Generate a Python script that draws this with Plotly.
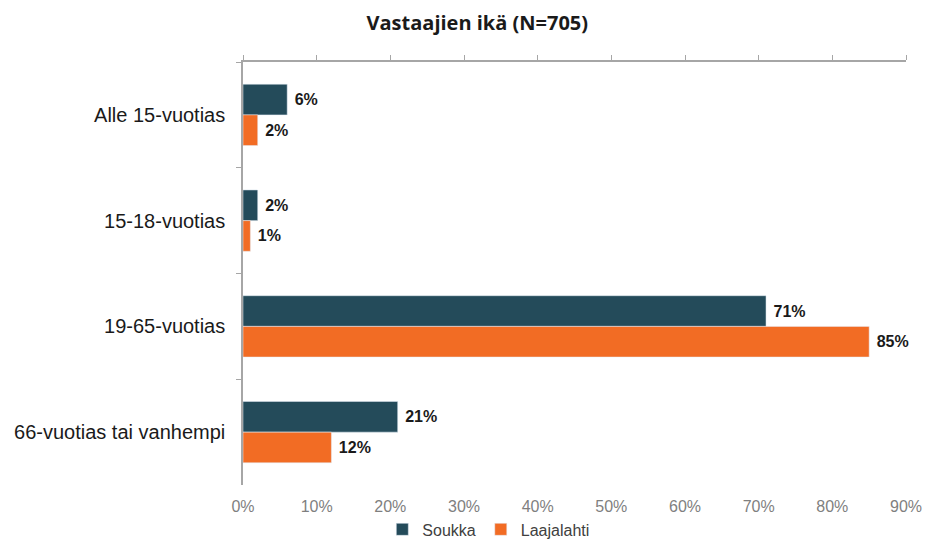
import plotly.graph_objects as go

categories = ['Alle 15-vuotias', '15-18-vuotias', '19-65-vuotias', '66-vuotias tai vanhempi']
soukka = [6, 2, 71, 21]
laajalahti = [2, 1, 85, 12]
x_ticks = [0, 10, 20, 30, 40, 50, 60, 70, 80, 90]

label_font = dict(family='Arial', size=16, color='#1a1a1a')

fig = go.Figure()
fig.add_trace(go.Bar(
    y=categories, x=soukka, orientation='h', name='Soukka',
    marker_color='#244B5A', text=[f'{v}%' for v in soukka],
    textposition='outside', cliponaxis=False, textfont=label_font,
))
fig.add_trace(go.Bar(
    y=categories, x=laajalahti, orientation='h', name='Laajalahti',
    marker_color='#F26C24', text=[f'{v}%' for v in laajalahti],
    textposition='outside', cliponaxis=False, textfont=label_font,
))
fig.update_traces(texttemplate='\u00a0<b>%{text}</b>', hoverinfo='x+y')

# invisible trace so the top axis gets drawn
fig.add_trace(go.Scatter(
    x=[0, 90], y=[categories[0], categories[0]], xaxis='x2', mode='markers',
    marker=dict(opacity=0), showlegend=False, hoverinfo='skip',
))

fig.update_layout(
    width=925, height=539,
    margin=dict(l=243, r=19, t=62, b=54, autoexpand=False),
    paper_bgcolor='white', plot_bgcolor='white',
    barmode='group', bargap=0.42, bargroupgap=0,
    title=dict(text='<b>Vastaajien ikä (N=705)</b>', x=0.516, xanchor='center',
               y=0.958, yanchor='middle',
               font=dict(family='Open Sans', size=20, color='#1a1a1a')),
    xaxis=dict(range=[0, 90], tickvals=x_ticks, ticktext=[f'{t}%' for t in x_ticks],
               showgrid=False, zeroline=False, showline=False, ticks='',
               ticklabelstandoff=10,
               tickfont=dict(family='Arial', size=16, color='#7f7f7f')),
    xaxis2=dict(range=[0, 90], tickvals=x_ticks, overlaying='x', side='top', anchor='y',
                showticklabels=False, showgrid=False, zeroline=False,
                showline=True, linecolor='#a6a6a6', linewidth=1.5,
                ticks='outside', ticklen=5, tickcolor='#a6a6a6'),
    yaxis=dict(autorange='reversed', showgrid=False, showline=True, linecolor='#a6a6a6',
               linewidth=1.5, ticks='outside', ticklen=5, tickcolor='#a6a6a6',
               tickson='boundaries', ticklabelstandoff=12,
               tickfont=dict(family='Arial', size=20, color='#1a1a1a')),
    legend=dict(orientation='h', x=0.37, xanchor='center', y=-0.105, yanchor='middle',
                font=dict(family='Arial', size=16, color='#404040'),
                itemwidth=30, traceorder='normal'),
    showlegend=True,
)

fig.write_html('out.html', config={'displayModeBar': False},
               post_script="document.body.style.margin='0';")
